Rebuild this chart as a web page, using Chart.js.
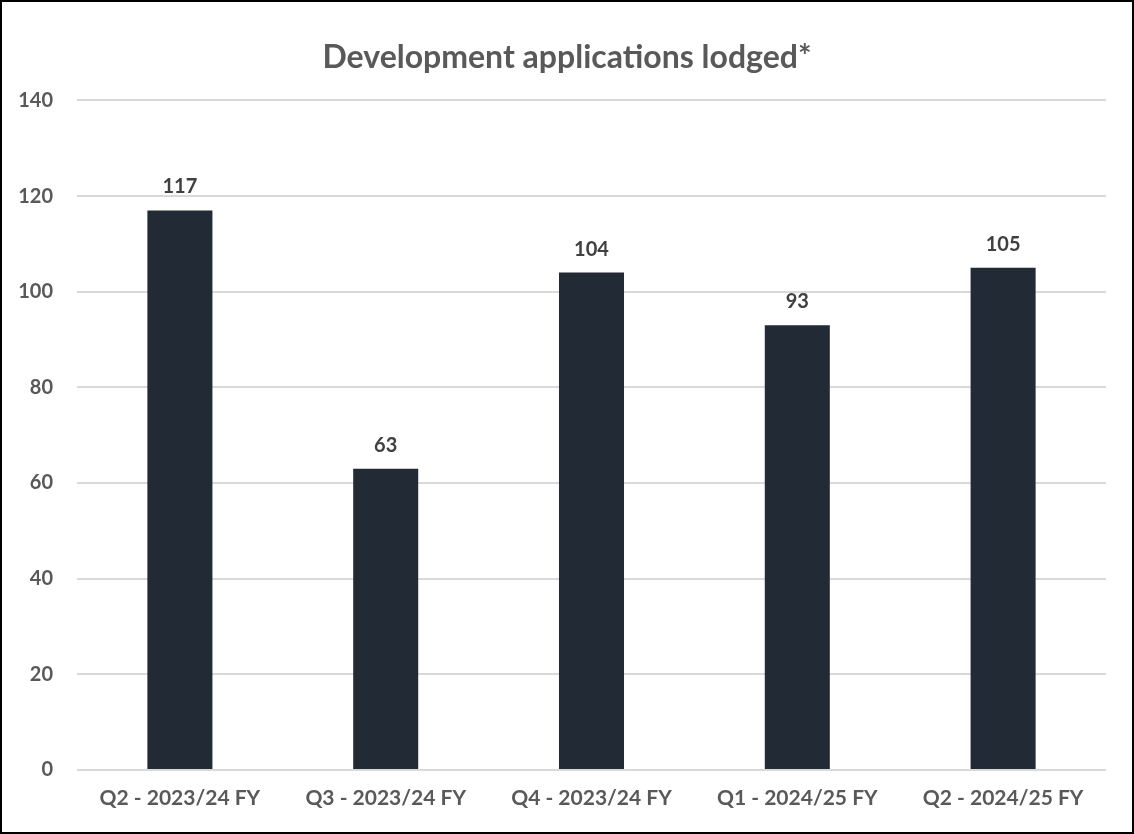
<!DOCTYPE html>
<html>
<head>
<meta charset="utf-8">
<script src="https://cdn.jsdelivr.net/npm/chart.js@4.4.1/dist/chart.umd.min.js"></script>
<style>
  html, body { margin: 0; padding: 0; background: #fff; }
  #wrap { position: relative; width: 1134px; height: 834px; }
  #frame { position: absolute; left: 0; top: 0; width: 1134px; height: 834px; box-sizing: border-box; border: 2px solid #000; pointer-events: none; }
</style>
</head>
<body>
<div id="wrap">
  <canvas id="chart" width="1134" height="834"></canvas>
  <div id="frame"></div>
</div>
<script>
  // Chart data
  const quarters = ['Q2 - 2023/24 FY', 'Q3 - 2023/24 FY', 'Q4 - 2023/24 FY', 'Q1 - 2024/25 FY', 'Q2 - 2024/25 FY'];
  const lodged = [117, 63, 104, 93, 105];
  const yMin = 0, yMax = 140, yStep = 20;

  const fontFamily = 'Lato, "Open Sans", sans-serif';

  // Value labels above each bar
  const barLabels = {
    id: 'barLabels',
    afterDatasetsDraw(chart) {
      const ctx = chart.ctx;
      const meta = chart.getDatasetMeta(0);
      ctx.save();
      ctx.font = 'bold 20px ' + fontFamily;
      ctx.fillStyle = '#404040';
      ctx.textAlign = 'center';
      ctx.textBaseline = 'alphabetic';
      meta.data.forEach((bar, i) => {
        ctx.fillText(chart.data.datasets[0].data[i], bar.x, bar.y - 17);
      });
      ctx.restore();
    }
  };

  const ctx = document.getElementById('chart').getContext('2d');
  const chart = new Chart(ctx, {
    type: 'bar',
    data: {
      labels: quarters,
      datasets: [{
        label: 'Development applications lodged',
        data: lodged,
        backgroundColor: '#222a35',
        categoryPercentage: 1,
        barPercentage: 0.316
      }]
    },
    options: {
      responsive: false,
      animation: false,
      layout: { padding: 0 },
      plugins: {
        legend: { display: false },
        tooltip: { enabled: false },
        title: {
          display: true,
          text: 'Development applications lodged*',
          color: '#595959',
          font: { family: fontFamily, size: 32, weight: 'bold' },
          padding: { top: 38, bottom: 24 }
        }
      },
      scales: {
        x: {
          grid: { display: false, drawTicks: false },
          border: { display: false },
          ticks: {
            color: '#595959',
            font: { family: fontFamily, size: 21, weight: 'bold' },
            padding: 16,
            maxRotation: 0
          },
          afterFit(scale) { scale.height = 64; }
        },
        y: {
          min: yMin,
          max: yMax,
          grid: { color: '#d9d9d9', lineWidth: 2, drawTicks: false },
          border: { display: false },
          ticks: {
            stepSize: yStep,
            color: '#595959',
            font: { family: fontFamily, size: 20, weight: 'bold' },
            padding: 24
          },
          afterFit(scale) { scale.width = 77; }
        },
        // empty right-hand axis, only to keep the right margin
        yRight: {
          position: 'right',
          min: yMin,
          max: yMax,
          grid: { display: false, drawTicks: false },
          border: { display: false },
          ticks: { display: false },
          afterFit(scale) { scale.width = 28; }
        }
      }
    },
    plugins: [barLabels]
  });
</script>
</body>
</html>
